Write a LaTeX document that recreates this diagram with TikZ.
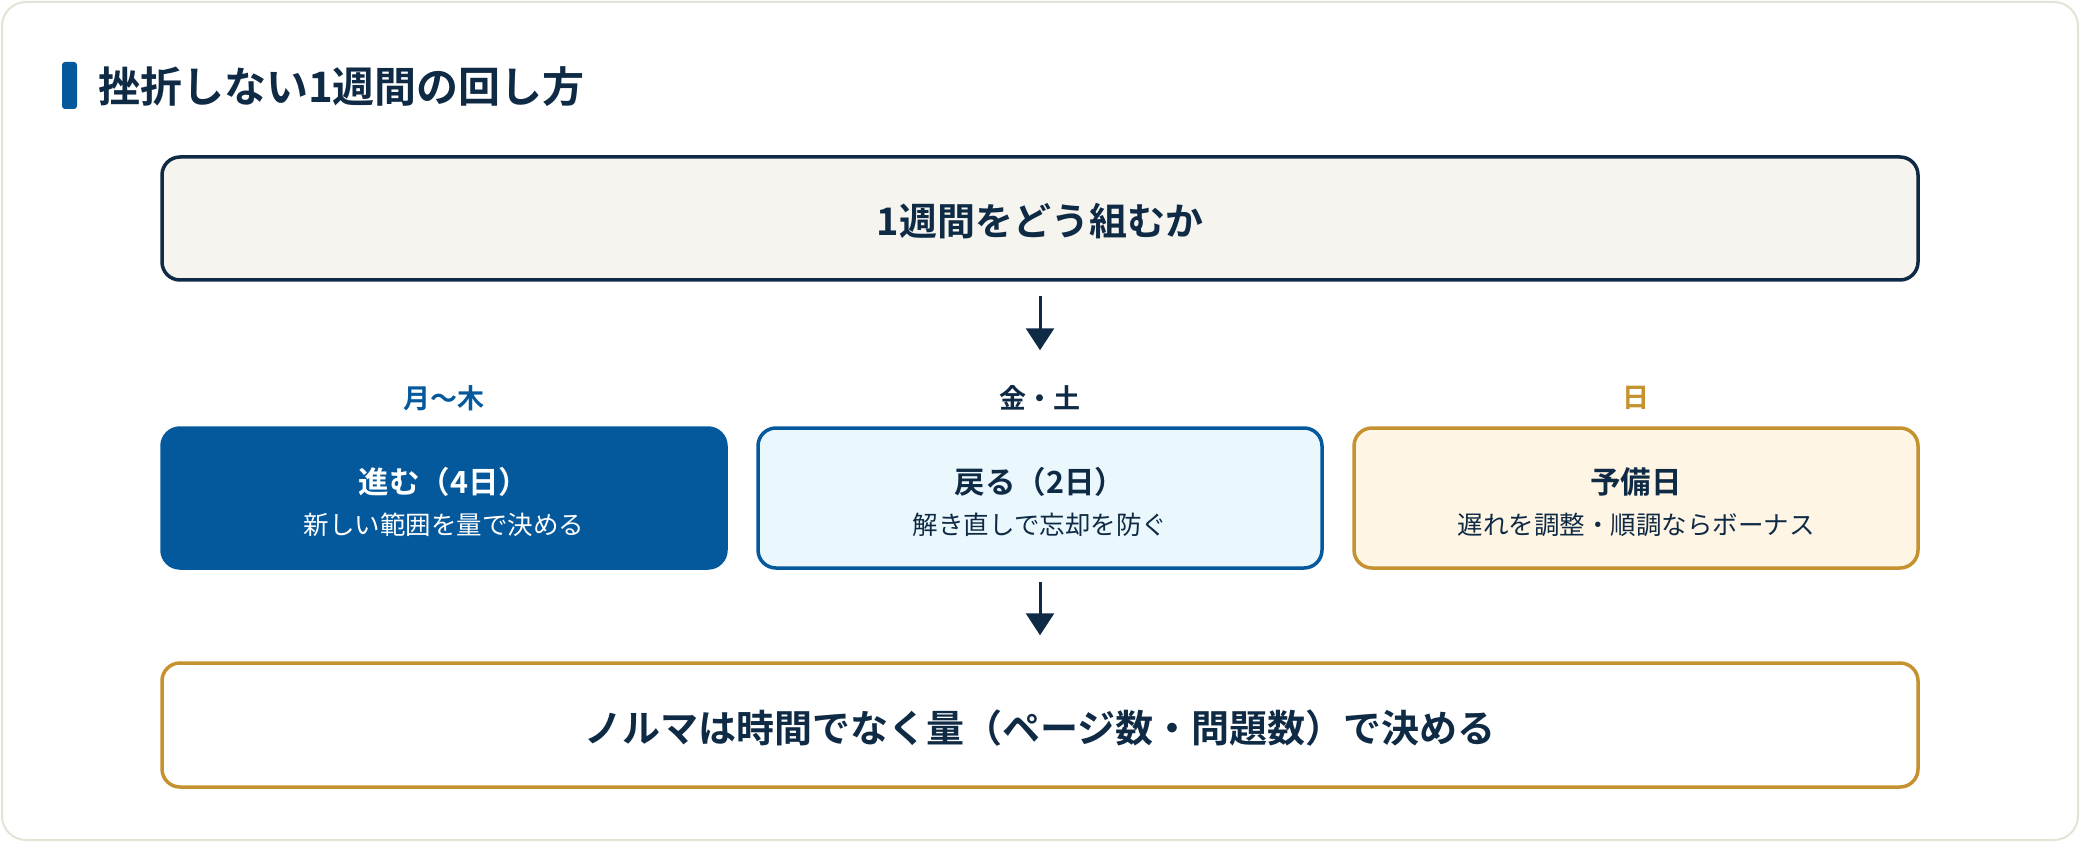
\documentclass[tikz,border=0pt]{standalone}
\usepackage{fontspec}
\setmainfont{Noto Sans CJK JP}[BoldFont={Noto Sans CJK JP Bold}]
\usetikzlibrary{arrows.meta}
\definecolor{navy}{HTML}{0F2A44}
\definecolor{mainblue}{HTML}{04589C}
\definecolor{lightblue}{HTML}{EAF7FD}
\definecolor{gold}{HTML}{C6922F}
\definecolor{cream}{HTML}{FFF5E5}
\definecolor{paper}{HTML}{F5F4EF}
\definecolor{cardline}{HTML}{E5E2D6}
\tikzset{
  wide/.style={rounded corners=18pt, line width=3.5pt, minimum width=1756pt, minimum height=123pt, inner sep=0pt},
  col/.style={rounded corners=18pt, line width=3.5pt, minimum width=564pt, minimum height=140pt, inner sep=0pt},
  bigtxt/.style={font=\fontsize{38pt}{46pt}\selectfont\bfseries, text=navy, inner sep=0pt},
  daytxt/.style={font=\fontsize{27pt}{32pt}\selectfont\bfseries, inner sep=0pt},
  headtxt/.style={font=\fontsize{30.5pt}{36pt}\selectfont\bfseries, inner sep=0pt},
  subtxt/.style={font=\fontsize{25.5pt}{30pt}\selectfont, inner sep=0pt},
  arr/.style={draw=navy, line width=3pt, -{Triangle[width=28pt,length=22pt]}},
}
\begin{document}
\begin{tikzpicture}[x=1pt,y=-1pt]
\useasboundingbox (0,0) rectangle (2080,842);
% card
\draw[cardline, line width=2pt, fill=white, rounded corners=24pt] (2,2) rectangle (2078,840);
% title
\fill[mainblue, rounded corners=3pt] (62,62) rectangle (77,109);
\node[anchor=west, font=\fontsize{42pt}{50pt}\selectfont\bfseries, text=navy, inner sep=0pt] (title) at (98,87) {挫折しない1週間の回し方};
% top box
\node[wide, draw=navy, fill=paper] (top) at (1040,218.5) {};
\node[bigtxt] (toptxt) at (1040,221) {1週間をどう組むか};
% day labels
\node[daytxt, text=mainblue] (d1) at (444,398) {月〜木};
\node[daytxt, text=navy] (d2) at (1040,398) {金・土};
\node[daytxt, text=gold] (d3) at (1636,398) {日};
% column boxes
\node[col, draw=mainblue, fill=mainblue] (b1) at (444,498) {};
\node[col, draw=mainblue, fill=lightblue] (b2) at (1040,498) {};
\node[col, draw=gold, fill=cream] (b3) at (1636,498) {};
\node[headtxt, text=white] (h1) at (444,482) {進む（4日）};
\node[subtxt, text=white] (s1) at (444,525) {新しい範囲を量で決める};
\node[headtxt, text=navy] (h2) at (1040,482) {戻る（2日）};
\node[subtxt, text=navy] (s2) at (1040,525) {解き直しで忘却を防ぐ};
\node[headtxt, text=navy] (h3) at (1636,482) {予備日};
\node[subtxt, text=navy] (s3) at (1636,525) {遅れを調整・順調ならボーナス};
% bottom box
\node[wide, draw=gold, fill=white, minimum height=124pt] (bot) at (1040,725) {};
\node[bigtxt] (bottxt) at (1040,728) {ノルマは時間でなく量（ページ数・問題数）で決める};
% arrows
\draw[arr, shorten <=14pt, shorten >=76pt] (top.south) -- (b2.north);
\draw[arr, shorten <=12pt, shorten >=26pt] (b2.south) -- (bot.north);
\end{tikzpicture}
\end{document}
